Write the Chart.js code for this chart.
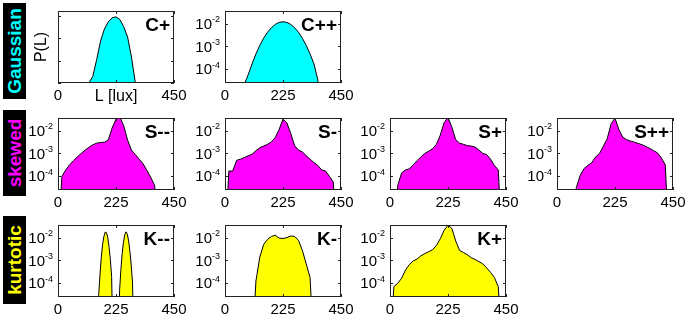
<!DOCTYPE html>
<html>
<head>
<meta charset="utf-8">
<script src="https://cdn.jsdelivr.net/npm/chart.js@4/dist/chart.umd.min.js"></script>
<style>
  body { margin: 0; background: #fff; width: 692px; height: 322px; position: relative; overflow: hidden; font-family: "Liberation Sans", Arial, sans-serif; }
  .panel { position: absolute; }
  .rowlabel { position: absolute; background: #000; }
  .rowlabel span { position: absolute; left: 50%; top: 50%; transform: translate(-50%, -50%) rotate(-90deg); font-weight: bold; font-size: 19px; white-space: nowrap; }
</style>
</head>
<body>
<script>
// shared histogram bins (lux)
const luxBins = [0,15,30,45,60,75,90,105,120,135,150,165,180,195,210,225,240,255,270,285,300,315,330,345,360,375,390,405,420,435,450];
const xTicks = [0, 225, 450];
const logTicks = [1e-2, 1e-3, 1e-4];
const linTicks = [0, 0.005, 0.01, 0.015];

// P(L) per bin
const cPlus = [0,0,0,0,0,0,0,0,0,0.0015,0.0052,0.0093,0.0120,0.0136,0.0145,0.0147,0.0141,0.0125,0.0102,0.0058,0,0,0,0,0,0,0,0,0,0,0];
const cPlusPlus = [0,0,0,0,0,2.2e-5,5.75e-5,1.74e-4,4.7e-4,1.12e-3,2.3e-3,4.2e-3,6.6e-3,9.2e-3,0.0112,0.0120,0.0112,9.2e-3,6.6e-3,4.2e-3,2.3e-3,1.12e-3,4.7e-4,1.74e-4,3.5e-5,0,0,0,0,0,0];
const sMinusMinus = [0,1.0e-4,1.9e-4,3.2e-4,4.8e-4,7.1e-4,1.0e-3,1.38e-3,1.86e-3,2.4e-3,2.8e-3,3.0e-3,3.1e-3,3.9e-3,0.013,0.032,0.04,0.016,3.8e-3,1.4e-3,8.9e-4,5.6e-4,3.5e-4,1.8e-4,8.9e-5,4.0e-5,0,0,0,0,0];
const sMinus = [0,1.7e-4,1.7e-4,5.0e-4,5.6e-4,6.6e-4,7.9e-4,9.3e-4,1.32e-3,1.78e-3,2.1e-3,2.5e-3,3.2e-3,5.0e-3,0.0112,0.032,0.022,7.5e-3,2.2e-3,1.4e-3,1.17e-3,7.9e-4,5.6e-4,4.0e-4,3.0e-4,1.9e-4,1.7e-4,1.0e-4,5.6e-5,0,0];
const sPlus = [0,0,4e-5,1.4e-4,1.9e-4,2.1e-4,3.2e-4,4.8e-4,7.1e-4,1.0e-3,1.26e-3,1.6e-3,2.5e-3,6.3e-3,0.0224,0.038,0.014,4.0e-3,2.8e-3,2.5e-3,2.2e-3,2.1e-3,1.9e-3,1.4e-3,1.0e-3,8.9e-4,5.6e-4,3.0e-4,1.9e-4,0,0];
const sPlusPlus = [0,0,0,0,0,3.2e-5,1.1e-4,2.2e-4,3.0e-4,4.0e-4,7.1e-4,1.0e-3,2.1e-3,4.5e-3,0.020,0.035,0.0112,5.2e-3,4.0e-3,3.5e-3,3.1e-3,2.75e-3,2.4e-3,2.0e-3,1.66e-3,1.32e-3,1.05e-3,6.3e-4,3.2e-4,0,0];
const kMinus = [0,0,0,0,0,0,0,0,1.26e-4,1.4e-3,5.0e-3,8.3e-3,0.0112,0.0126,9.5e-3,9.1e-3,0.010,0.0117,0.0112,7.6e-3,2.8e-3,7.1e-4,1.8e-4,0,0,0,0,0,0,0,0];
const kPlus = [0,7.1e-5,1.0e-4,1.66e-4,3.8e-4,6.6e-4,9.5e-4,1.15e-3,1.6e-3,2.0e-3,2.4e-3,2.95e-3,4.5e-3,8.9e-3,0.021,0.035,0.025,7.1e-3,2.75e-3,2.2e-3,1.78e-3,1.32e-3,1.1e-3,8.9e-4,7.1e-4,4.7e-4,3.0e-4,1.8e-4,7.1e-5,0,0];
// K-- is two narrow bumps, finer bins
const kMinusMinusLux = [0,150,158,163,168,173,178,183,188,193,198,203,208,214,235,239,244,249,254,259,264,269,274,279,284,289,295,450];
const kMinusMinus = [0,0,3.2e-5,2.5e-4,1.4e-3,5.0e-3,0.0112,0.0174,0.0166,0.010,4.0e-3,1.12e-3,2.0e-4,0,0,5.0e-5,4.0e-4,2.0e-3,6.3e-3,0.0132,0.0178,0.0141,7.1e-3,2.5e-3,6.3e-4,1.12e-4,0,0];

const CYAN = '#00ffff', MAGENTA = '#ff00ff', YELLOW = '#ffff00';

// layout of the grid
const rowTops = [11, 118, 225];
const colLefts = [58, 225, 390, 557];
const BOX_W = 116, BOX_H = 72, PAD_L = 45, PAD_T = 2, PAD_R = 20, AXIS_H = 24;

const panels = [
    { name: 'C+',  row: 0, col: 0, lux: luxBins, vals: cPlus, color: CYAN, log: false },
    { name: 'C++', row: 0, col: 1, lux: luxBins, vals: cPlusPlus, color: CYAN, log: true },
    { name: 'S--', row: 1, col: 0, lux: luxBins, vals: sMinusMinus, color: MAGENTA, log: true },
    { name: 'S-',  row: 1, col: 1, lux: luxBins, vals: sMinus, color: MAGENTA, log: true },
    { name: 'S+',  row: 1, col: 2, lux: luxBins, vals: sPlus, color: MAGENTA, log: true },
    { name: 'S++', row: 1, col: 3, lux: luxBins, vals: sPlusPlus, color: MAGENTA, log: true },
    { name: 'K--', row: 2, col: 0, lux: kMinusMinusLux, vals: kMinusMinus, color: YELLOW, log: true },
    { name: 'K-',  row: 2, col: 1, lux: luxBins, vals: kMinus, color: YELLOW, log: true },
    { name: 'K+',  row: 2, col: 2, lux: luxBins, vals: kPlus, color: YELLOW, log: true }
];

const rowLabels = [
    { text: 'Gaussian', color: CYAN, top: 3, height: 96 },
    { text: 'skewed', color: MAGENTA, top: 110, height: 86 },
    { text: 'kurtotic', color: YELLOW, top: 216, height: 88 }
];

const FONT = '"Liberation Sans", Arial, sans-serif';

// box, inward ticks, log labels with superscript, panel name
const framePlugin = {
    id: 'frame',
    afterDraw(chart, args, opts) {
        const ctx = chart.ctx;
        const a = chart.chartArea;
        const xs = chart.scales.x, ys = chart.scales.y;
        ctx.save();
        ctx.strokeStyle = '#222';
        ctx.lineWidth = 1;
        ctx.strokeRect(a.left + 0.5, a.top + 0.5, a.right - a.left - 1, a.bottom - a.top - 1);

        ctx.beginPath();
        xs.ticks.forEach(t => {
            const px = Math.round(xs.getPixelForValue(t.value)) + 0.5;
            ctx.moveTo(px, a.bottom); ctx.lineTo(px, a.bottom - 3);
            ctx.moveTo(px, a.top); ctx.lineTo(px, a.top + 3);
        });
        ys.ticks.forEach(t => {
            const py = Math.round(ys.getPixelForValue(t.value)) + 0.5;
            ctx.moveTo(a.left, py); ctx.lineTo(a.left + 3, py);
            ctx.moveTo(a.right, py); ctx.lineTo(a.right - 3, py);
        });
        ctx.stroke();

        ctx.fillStyle = '#000';
        if (opts.log) {
            ys.ticks.forEach(t => {
                const py = ys.getPixelForValue(t.value);
                const sup = String(Math.round(Math.log10(t.value)));
                ctx.textAlign = 'right';
                ctx.textBaseline = 'middle';
                ctx.font = '9px ' + FONT;
                const supW = ctx.measureText(sup).width;
                ctx.fillText(sup, a.left - 5, py - 4);
                ctx.font = '15px ' + FONT;
                ctx.fillText('10', a.left - 5 - supW, py + 1);
            });
        }
        if (opts.yTitle) {
            ctx.save();
            ctx.translate(a.left - 16, (a.top + a.bottom) / 2);
            ctx.rotate(-Math.PI / 2);
            ctx.font = '16px ' + FONT;
            ctx.textAlign = 'center';
            ctx.textBaseline = 'middle';
            ctx.fillText(opts.yTitle, 0, 0);
            ctx.restore();
        }
        ctx.font = 'bold 19px ' + FONT;
        ctx.textAlign = 'right';
        ctx.textBaseline = 'top';
        ctx.fillText(opts.name, a.right - 4, a.top + 5);
        ctx.restore();
    }
};

function buildPanel(p) {
    const div = document.createElement('div');
    div.className = 'panel';
    const w = PAD_L + BOX_W + PAD_R, h = PAD_T + BOX_H + AXIS_H;
    div.style.left = (colLefts[p.col] - PAD_L) + 'px';
    div.style.top = (rowTops[p.row] - PAD_T) + 'px';
    const canvas = document.createElement('canvas');
    canvas.width = w;
    canvas.height = h;
    div.appendChild(canvas);
    document.body.appendChild(div);

    // log axis cannot show 0, push empty bins far below the floor
    const pts = p.lux.map((x, i) => ({ x: x, y: p.log && p.vals[i] === 0 ? 1e-7 : p.vals[i] }));

    const yScale = p.log
        ? { type: 'logarithmic', min: Math.pow(10, -4.6), max: Math.pow(10, -1.45) }
        : { type: 'linear', min: 0, max: 0.016 };
    Object.assign(yScale, {
        grid: { display: false, drawTicks: false },
        border: { display: false },
        ticks: { display: false },
        afterBuildTicks: s => { s.ticks = (p.log ? logTicks : linTicks).map(v => ({ value: v })); },
        afterFit: s => { s.width = PAD_L; }
    });

    new Chart(canvas.getContext('2d'), {
        type: 'line',
        data: {
            datasets: [{
                data: pts,
                borderColor: '#000',
                borderWidth: 1,
                backgroundColor: p.color,
                fill: 'start',
                pointRadius: 0,
                tension: 0
            }]
        },
        options: {
            responsive: false,
            animation: false,
            devicePixelRatio: 1,
            layout: { autoPadding: false, padding: { left: 0, top: PAD_T, right: PAD_R, bottom: 0 } },
            plugins: {
                legend: { display: false },
                tooltip: { enabled: false },
                frame: { name: p.name, log: p.log, yTitle: p.log ? null : 'P(L)' }
            },
            scales: {
                x: {
                    type: 'linear', min: 0, max: 450,
                    grid: { display: false, drawTicks: false },
                    border: { display: false },
                    afterBuildTicks: s => { s.ticks = xTicks.map(v => ({ value: v })); },
                    afterFit: s => { s.height = AXIS_H; },
                    ticks: {
                        padding: 4,
                        maxRotation: 0,
                        color: '#000',
                        font: c => ({ family: FONT, size: (!p.log && c.tick && c.tick.value === 225) ? 16 : 15 }),
                        callback: v => (!p.log && v === 225) ? 'L [lux]' : String(v)
                    }
                },
                y: yScale
            }
        },
        plugins: [framePlugin]
    });
}

rowLabels.forEach(r => {
    const d = document.createElement('div');
    d.className = 'rowlabel';
    d.style.left = '3px';
    d.style.top = r.top + 'px';
    d.style.width = '23px';
    d.style.height = r.height + 'px';
    d.innerHTML = `<span style="color:${r.color}">${r.text}</span>`;
    document.body.appendChild(d);
});

panels.forEach(buildPanel);
</script>
</body>
</html>
